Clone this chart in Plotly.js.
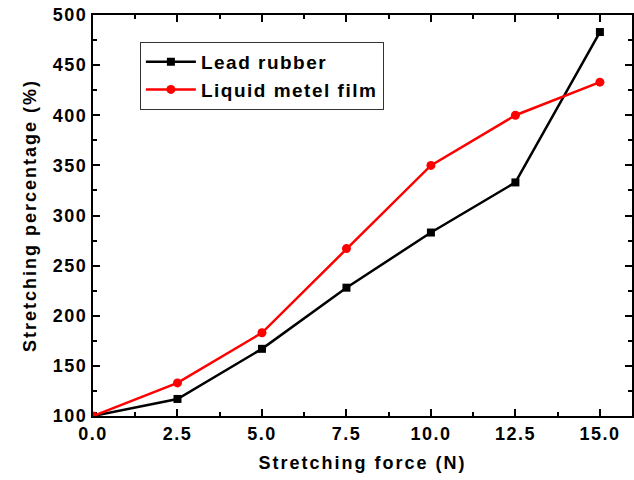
<!DOCTYPE html>
<html>
<head>
<meta charset="utf-8">
<script src="https://cdn.plot.ly/plotly-3.0.1.min.js"></script>
<style>
  html, body { margin: 0; padding: 0; background: #fff; }
  #chart { width: 634px; height: 480px; }
  .xtick text, .ytick text { letter-spacing: 1.5px; }
  .g-xtitle text, .g-ytitle text { letter-spacing: 2px; }
  .legendtext { letter-spacing: 1.5px; }
</style>
</head>
<body>
<div id="chart"></div>
<script>
// Data
const force = [0, 2.5, 5.0, 7.5, 10.0, 12.5, 15.0];
const leadRubber = [100, 117, 167, 228, 283, 333, 483];
const liquidMetalFilm = [100, 133, 183, 267, 350, 400, 433];
const seriesNames = ["Lead rubber", "Liquid metel film"];
const xTitle = "Stretching force (N)";
const yTitle = "Stretching percentage (%)";

const fontFamily = 'Arial, "Liberation Sans", sans-serif';

const traces = [
  {
    x: force, y: leadRubber, name: seriesNames[0],
    type: "scatter", mode: "lines+markers",
    line: { color: "#000000", width: 2.5 },
    marker: { symbol: "square", size: 8, color: "#000000" }
  },
  {
    x: force, y: liquidMetalFilm, name: seriesNames[1],
    type: "scatter", mode: "lines+markers",
    line: { color: "#ff0000", width: 2.5 },
    marker: { symbol: "circle", size: 9, color: "#ff0000" }
  }
];

const axisCommon = {
  showgrid: false, zeroline: false,
  showline: true, linecolor: "#000", linewidth: 2,
  mirror: "ticks",
  ticks: "inside", ticklen: 7, tickwidth: 2, tickcolor: "#000",
  tickfont: { family: fontFamily, size: 18, color: "#000", weight: "bold" }
};

const layout = {
  width: 634, height: 480,
  margin: { l: 93, r: 2, t: 15, b: 64 },
  paper_bgcolor: "#fff", plot_bgcolor: "#fff",
  showlegend: true,
  legend: {
    x: 0.087, y: 0.933, xanchor: "left", yanchor: "top",
    bgcolor: "#fff", bordercolor: "#333", borderwidth: 1,
    itemwidth: 50, tracegroupgap: 0,
    font: { family: fontFamily, size: 19, color: "#000", weight: "bold" }
  },
  xaxis: Object.assign({}, axisCommon, {
    range: [0, 15.95], dtick: 2.5, tick0: 0, tickformat: ".1f",
    minor: { ticks: "inside", ticklen: 4, tickwidth: 2, tickcolor: "#000", dtick: 1.25 },
    title: { text: xTitle, standoff: 14,
      font: { family: fontFamily, size: 18, color: "#000", weight: "bold" } }
  }),
  yaxis: Object.assign({}, axisCommon, {
    range: [100, 500], dtick: 50, tick0: 100,
    minor: { ticks: "inside", ticklen: 4, tickwidth: 2, tickcolor: "#000", dtick: 25 },
    title: { text: yTitle, standoff: 12,
      font: { family: fontFamily, size: 18, color: "#000", weight: "bold" } }
  })
};

Plotly.newPlot("chart", traces, layout, { displayModeBar: false, staticPlot: true });
</script>
</body>
</html>
